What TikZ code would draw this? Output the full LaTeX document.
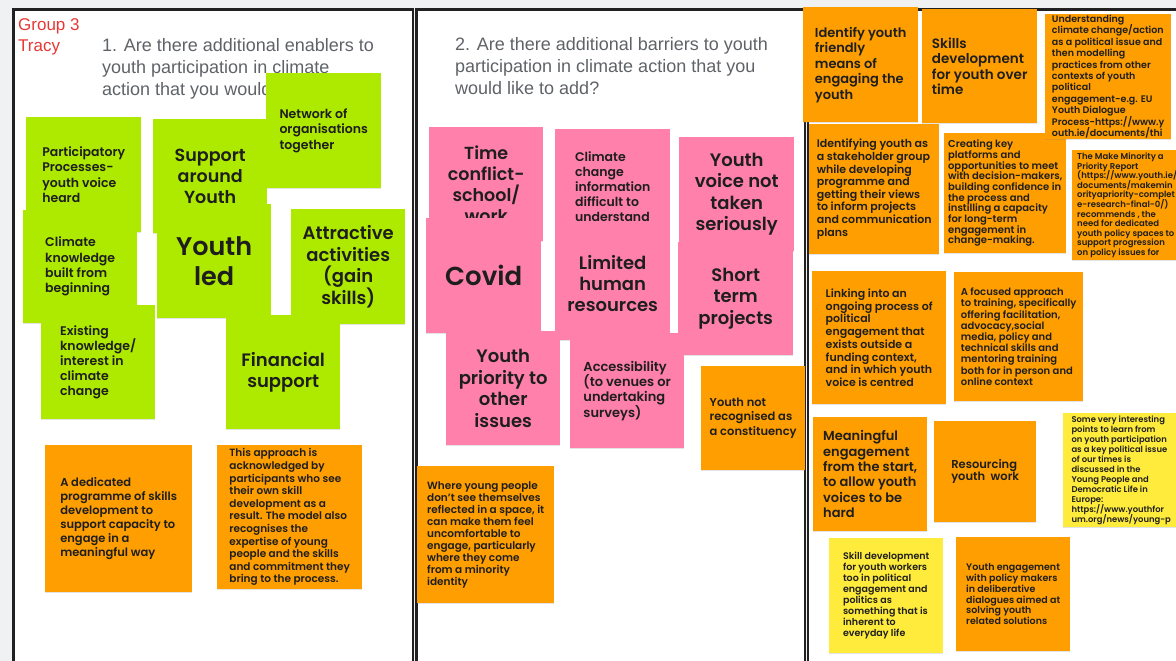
\documentclass[tikz,border=0pt]{standalone}
\usepackage{fontspec}
\setmainfont{Poppins}[BoldFont={Poppins SemiBold}]
\newfontfamily\headfont{Liberation Sans}
\usetikzlibrary{shadows}
\definecolor{lime_note}{RGB}{174, 234, 0}
\definecolor{pink_note}{RGB}{255, 128, 171}
\definecolor{orange_note}{RGB}{255, 158, 0}
\definecolor{yellow_note}{RGB}{255, 235, 59}
\definecolor{board_grey}{RGB}{239, 241, 243}
\definecolor{frame_black}{RGB}{33, 33, 33}
\definecolor{head_grey}{RGB}{95, 99, 104}
\definecolor{group_red}{RGB}{229, 57, 53}
\definecolor{note_text}{RGB}{30, 30, 30}
\def \notefs#1#2{\fontsize{#1}{#2}\selectfont\bfseries\lineskiplimit=-20pt}

\begin{document}
\begin{tikzpicture}[
    x=1pt, y=-1pt,
    panel/.style={
        draw=frame_black,
        fill=white,
        line width=2.5pt
    },
    question/.style={
        anchor=north west,
        inner sep=0pt,
        align=left,
        text=head_grey,
        font=\headfont\fontsize{18}{22}\selectfont
    },
    note/.style={
        rectangle,
        fill=#1,
        anchor=north west,
        minimum width=115,
        minimum height=115,
        inner sep=0pt,
        align=left,
        text=note_text,
        drop shadow={shadow xshift=0pt, shadow yshift=-1.2pt, opacity=0.22}
    },
    bignote/.style={
        note=#1,
        align=center
    }
]

% Board and panels
\fill[board_grey] (0,0) rectangle (1176,661);
\useasboundingbox (0,0) rectangle (1176,661);
\draw[panel] (13.5,9.5) rectangle (413,680);
\draw[panel] (416.5,9.5) rectangle (805,680);
\draw[panel] (808,9.5) rectangle (1200,680);

% Titles
\node[question, text=group_red, font=\headfont\fontsize{17}{21}\selectfont] (group) at (18,18) {Group 3\\Tracy};
\node[question] (qone) at (102,38.5) {1. Are there additional enablers to\\youth participation in climate\\action that you would like to add?};
\node[question] (qtwo) at (455,37.5) {2. Are there additional barriers to youth\\participation in climate action that you\\would like to add?};

% Enablers
\node[note=lime_note, font=\notefs{12.5}{15.5}] (network) at (266,73) {Network of\\organisations\\together};
\node[note=lime_note, font=\notefs{12.5}{15.3}] (particip) at (26,117) {Participatory\\Processes-\\youth voice\\heard};
\node[bignote=lime_note, font=\notefs{17.5}{21}, minimum width=114, minimum height=114] (support) at (153,119) {Support\\around\\Youth};
\node[note=lime_note, font=\notefs{12.5}{15.3}, minimum width=114, minimum height=113] (climknow) at (23,210) {Climate\\knowledge\\built from\\beginning};
\node[bignote=lime_note, font=\notefs{25.5}{30}, minimum width=114, minimum height=114] (youthled) at (157,204) {Youth\\led};
\node[bignote=lime_note, font=\notefs{18}{21.5}, minimum width=114] (attract) at (291,209) {Attractive\\activities\\(gain\\skills)};
\node[note=lime_note, font=\notefs{12.5}{15}, minimum width=114, minimum height=114] (existing) at (41,305) {Existing\\knowledge/\\interest in\\climate\\change};
\node[bignote=lime_note, font=\notefs{18}{21}, minimum width=114, minimum height=114] (financial) at (226,315) {Financial\\support};
\node[note=orange_note, font=\notefs{11.5}{14}, minimum width=147, minimum height=147] (dedicated) at (45,445) {A dedicated\\programme of skills\\development to\\support capacity to\\engage in a\\meaningful way};
\node[note=orange_note, font=\notefs{10.5}{12.6}, minimum width=145, minimum height=144] (approach) at (217,445) {This approach is\\acknowledged by\\participants who see\\their own skill\\development as a\\result. The model also\\recognises the\\expertise of young\\people and the skills\\and commitment they\\bring to the process.};

% Barriers
\node[bignote=pink_note, font=\notefs{17.5}{21}, minimum width=114, minimum height=114] (timeconf) at (429,127) {Time\\conflict-\\school/\\work};
\node[note=pink_note, font=\notefs{12.5}{15}, minimum height=114] (climinfo) at (555,129) {Climate\\change\\information\\difficult to\\understand};
\node[bignote=pink_note, font=\notefs{18}{21.5}, minimum height=114] (voicenot) at (679,137) {Youth\\voice not\\taken\\seriously};
\node[bignote=pink_note, font=\notefs{26}{30}] (covid) at (426,218) {Covid};
\node[bignote=pink_note, font=\notefs{18}{21}, minimum height=114] (limited) at (555,226) {Limited\\human\\resources};
\node[bignote=pink_note, font=\notefs{18}{21.5}, minimum height=113] (shortterm) at (678,242) {Short\\term\\projects};
\node[bignote=pink_note, font=\notefs{18}{21.5}, minimum width=114, minimum height=114] (priority) at (446,331) {Youth\\priority to\\other\\issues};
\node[note=pink_note, font=\notefs{13}{15.3}, minimum width=114] (access) at (570,333) {Accessibility\\(to venues or\\undertaking\\surveys)};
\node[note=orange_note, font=\notefs{11.5}{14.5}, minimum width=104, minimum height=104] (notrecog) at (701,366) {Youth not\\recognised as\\a constituency};
\node[note=orange_note, font=\notefs{10.5}{12}, minimum width=137, minimum height=137] (whereyoung) at (417,466) {Where young people\\don't see themselves\\reflected in a space, it\\can make them feel\\uncomfortable to\\engage, particularly\\where they come\\from a minority\\identity};

% Third question notes
\node[note=orange_note, font=\notefs{13}{15.5}] (identify) at (803,7) {Identify youth\\friendly\\means of\\engaging the\\youth};
\node[note=orange_note, font=\notefs{13.5}{15.3}, minimum height=114] (skillsdev) at (922,9) {Skills\\development\\for youth over\\time};
\node[note=orange_note, font=\notefs{11}{12.6}, minimum width=130, minimum height=130] (stakeh) at (809,124) {Identifying youth as\\a stakeholder group\\while developing\\programme and\\getting their views\\to inform projects\\and communication\\plans};
\node[note=orange_note, font=\notefs{10}{10.7}, minimum width=122, minimum height=120] (platforms) at (944,133) {Creating key\\platforms and\\opportunities to meet\\with decision-makers,\\building confidence in\\the process and\\instilling a capacity\\for long-term\\engagement in\\change-making.};
\node[note=orange_note, font=\notefs{9.5}{11.4}, minimum width=126, minimum height=125] (underst) at (1045,14) {Understanding\\climate change/action\\as a political issue and\\then modelling\\practices from other\\contexts of youth\\political\\engagement-e.g. EU\\Youth Dialogue\\Process-https://www.y\\outh.ie/documents/thi};
\node[note=orange_note, font=\notefs{8.5}{9.6}, minimum width=110, minimum height=110] (minority) at (1072,150) {The Make Minority a\\Priority Report\\(https://www.youth.ie/\\documents/makemin\\orityapriority-complet\\e-research-final-0/)\\recommends , the\\need for dedicated\\youth policy spaces to\\support progression\\on policy issues for};
\node[note=orange_note, font=\notefs{11}{12.7}, minimum width=134, minimum height=133] (linking) at (812,271) {Linking into an\\ongoing process of\\political\\engagement that\\exists outside a\\funding context,\\and in which youth\\voice is centred};
\node[note=orange_note, font=\notefs{10}{11.2}, minimum width=129, minimum height=129] (focused) at (954,272) {A focused approach\\to training, specifically\\offering facilitation,\\advocacy,social\\media, policy and\\technical skills and\\mentoring training\\both for in person and\\online context};
\node[note=orange_note, font=\notefs{13}{15.4}, minimum width=114, minimum height=114] (meaningful) at (813,417) {Meaningful\\engagement\\from the start,\\to allow youth\\voices to be\\hard};
\node[note=orange_note, font=\notefs{11.5}{12.5}, minimum width=102, minimum height=101] (resourcing) at (934,421) {Resourcing\\youth\ \ work};
\node[note=yellow_note, font=\notefs{8.4}{10}, minimum width=116, minimum height=114] (interesting) at (1063,413) {Some very interesting\\points to learn from\\on youth participation\\as a key political issue\\of our times is\\discussed in the\\Young People and\\Democratic Life in\\Europe:\\https://www.youthfor\\um.org/news/young-p};
\node[note=yellow_note, font=\notefs{9.5}{11}, minimum width=114] (workers) at (829,538) {Skill development\\for youth workers\\too in political\\engagement and\\politics as\\something that is\\inherent to\\everyday life};
\node[note=orange_note, font=\notefs{9.5}{10.8}, minimum width=114, minimum height=114] (dialogues) at (956,537) {Youth engagement\\with policy makers\\in deliberative\\dialogues aimed at\\solving youth\\related solutions};

\end{tikzpicture}
\end{document}
